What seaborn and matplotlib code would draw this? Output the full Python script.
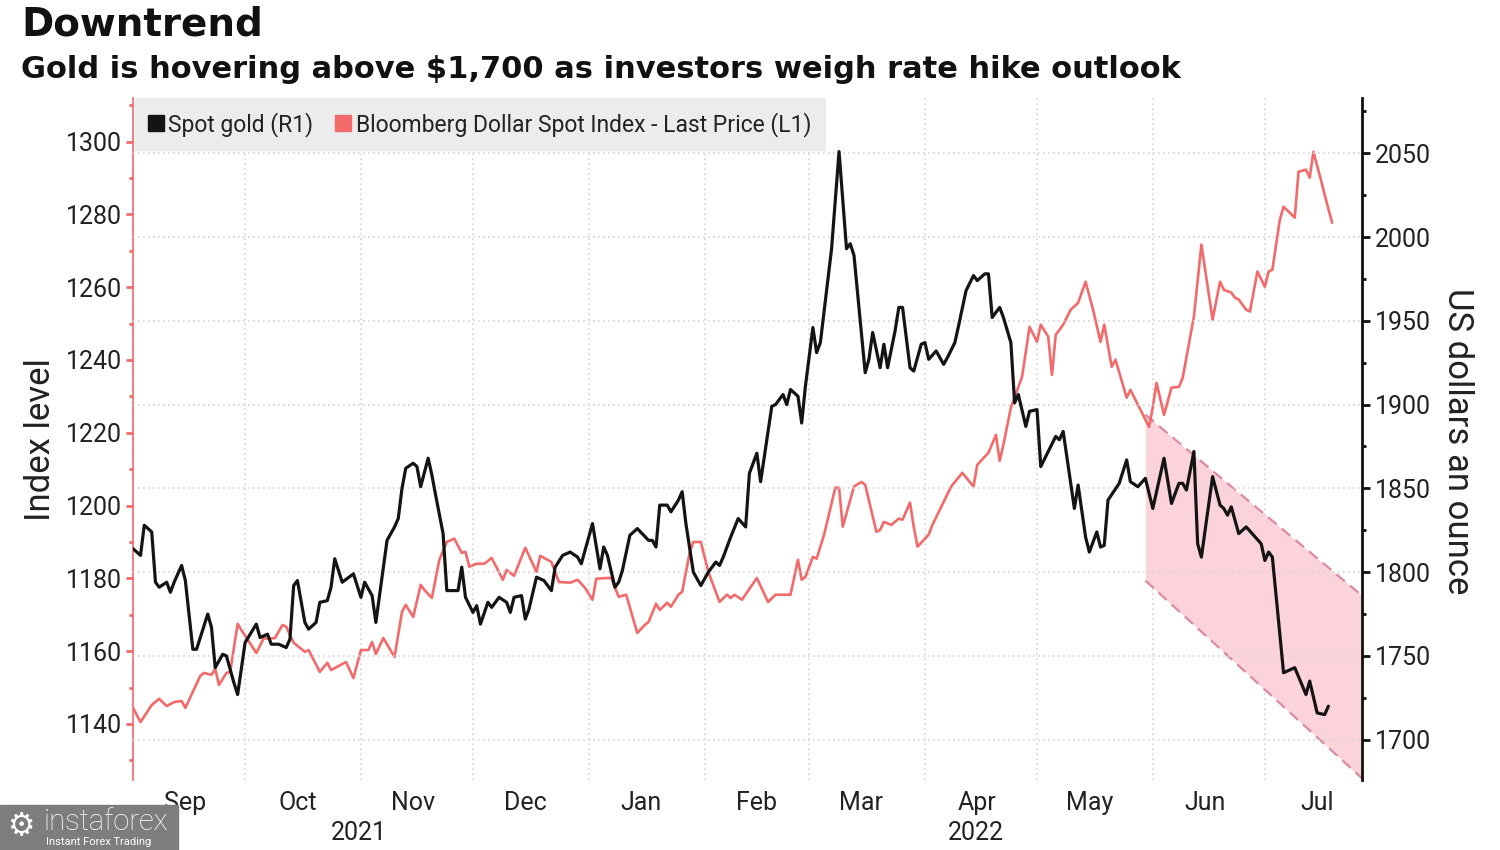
import pandas as pd
import seaborn as sns
import matplotlib.pyplot as plt
import matplotlib.transforms as mtransforms
from matplotlib.lines import Line2D
from matplotlib.patches import Rectangle
from matplotlib.ticker import MultipleLocator

# spot gold, US$ an ounce (right axis)
gold_dates = [
    '2021-09-01', '2021-09-03', '2021-09-04', '2021-09-06', '2021-09-07', '2021-09-08', '2021-09-10',
    '2021-09-11', '2021-09-12', '2021-09-14', '2021-09-15', '2021-09-17', '2021-09-18', '2021-09-21',
    '2021-09-22', '2021-09-23', '2021-09-25', '2021-09-26', '2021-09-28', '2021-09-29', '2021-10-01',
    '2021-10-04', '2021-10-05', '2021-10-07', '2021-10-08', '2021-10-10', '2021-10-12', '2021-10-13',
    '2021-10-14', '2021-10-15', '2021-10-17', '2021-10-18', '2021-10-20', '2021-10-21', '2021-10-23',
    '2021-10-24', '2021-10-25', '2021-10-27', '2021-10-30', '2021-11-01', '2021-11-02', '2021-11-04',
    '2021-11-05', '2021-11-08', '2021-11-10', '2021-11-11', '2021-11-12', '2021-11-13', '2021-11-15',
    '2021-11-16', '2021-11-17', '2021-11-19', '2021-11-20', '2021-11-21', '2021-11-23', '2021-11-24',
    '2021-11-27', '2021-11-28', '2021-11-29', '2021-12-01', '2021-12-02', '2021-12-03', '2021-12-05',
    '2021-12-06', '2021-12-08', '2021-12-10', '2021-12-11', '2021-12-12', '2021-12-14', '2021-12-15',
    '2021-12-16', '2021-12-18', '2021-12-20', '2021-12-22', '2021-12-23', '2021-12-25', '2021-12-27',
    '2021-12-29', '2021-12-30', '2021-12-31', '2022-01-02', '2022-01-04', '2022-01-05', '2022-01-06',
    '2022-01-08', '2022-01-09', '2022-01-10', '2022-01-12', '2022-01-14', '2022-01-17', '2022-01-18',
    '2022-01-19', '2022-01-20', '2022-01-22', '2022-01-23', '2022-01-25', '2022-01-26', '2022-01-27',
    '2022-01-29', '2022-01-31', '2022-02-02', '2022-02-04', '2022-02-05', '2022-02-06', '2022-02-08',
    '2022-02-10', '2022-02-12', '2022-02-13', '2022-02-15', '2022-02-16', '2022-02-17', '2022-02-19',
    '2022-02-20', '2022-02-22', '2022-02-23', '2022-02-24', '2022-02-26', '2022-02-27', '2022-02-28',
    '2022-03-02', '2022-03-03', '2022-03-04', '2022-03-07', '2022-03-09', '2022-03-11', '2022-03-12',
    '2022-03-13', '2022-03-16', '2022-03-17', '2022-03-18', '2022-03-20', '2022-03-21', '2022-03-22',
    '2022-03-24', '2022-03-25', '2022-03-26', '2022-03-28', '2022-03-29', '2022-03-31', '2022-04-01',
    '2022-04-02', '2022-04-04', '2022-04-06', '2022-04-07', '2022-04-09', '2022-04-10', '2022-04-12',
    '2022-04-14', '2022-04-15', '2022-04-17', '2022-04-18', '2022-04-19', '2022-04-21', '2022-04-22',
    '2022-04-24', '2022-04-25', '2022-04-26', '2022-04-28', '2022-04-29', '2022-05-01', '2022-05-02',
    '2022-05-06', '2022-05-07', '2022-05-08', '2022-05-11', '2022-05-12', '2022-05-14', '2022-05-15',
    '2022-05-17', '2022-05-18', '2022-05-19', '2022-05-20', '2022-05-23', '2022-05-25', '2022-05-26',
    '2022-05-28', '2022-05-30', '2022-06-01', '2022-06-04', '2022-06-06', '2022-06-08', '2022-06-09',
    '2022-06-10', '2022-06-12', '2022-06-13', '2022-06-14', '2022-06-17', '2022-06-19', '2022-06-20',
    '2022-06-21', '2022-06-22', '2022-06-24', '2022-06-26', '2022-06-28', '2022-06-30', '2022-07-01',
    '2022-07-02', '2022-07-03', '2022-07-06', '2022-07-09', '2022-07-12', '2022-07-13', '2022-07-15',
    '2022-07-17', '2022-07-18',
]
gold_usd = [
    1814, 1810, 1828, 1824, 1794, 1791, 1794, 1788, 1794, 1804, 1795, 1754, 1754, 1775,
    1767, 1743, 1751, 1750, 1734, 1727, 1758, 1769, 1761, 1763, 1757, 1757, 1755, 1760,
    1792, 1795, 1770, 1766, 1770, 1782, 1783, 1791, 1808, 1794, 1799, 1785, 1794, 1786,
    1770, 1819, 1827, 1832, 1850, 1862, 1865, 1863, 1851, 1868, 1858, 1846, 1823, 1789,
    1789, 1803, 1785, 1776, 1780, 1769, 1782, 1779, 1785, 1782, 1776, 1785, 1786, 1772,
    1778, 1797, 1795, 1789, 1803, 1810, 1812, 1809, 1805, 1813, 1829, 1802, 1815, 1810,
    1791, 1794, 1801, 1822, 1826, 1819, 1819, 1815, 1840, 1840, 1836, 1843, 1848, 1829,
    1800, 1792, 1800, 1806, 1804, 1809, 1821, 1832, 1827, 1859, 1871, 1854, 1869, 1899,
    1900, 1906, 1900, 1909, 1905, 1889, 1911, 1946, 1931, 1937, 1993, 2051, 1993, 1996,
    1989, 1919, 1927, 1943, 1922, 1936, 1922, 1944, 1958, 1958, 1922, 1920, 1936, 1937,
    1927, 1932, 1924, 1928, 1937, 1947, 1968, 1977, 1974, 1978, 1978, 1952, 1958, 1952,
    1937, 1901, 1906, 1887, 1896, 1897, 1863, 1881, 1879, 1884, 1838, 1852, 1821, 1812,
    1824, 1815, 1816, 1843, 1853, 1867, 1854, 1851, 1856, 1838, 1868, 1841, 1853, 1853,
    1849, 1872, 1817, 1809, 1857, 1840, 1838, 1834, 1839, 1823, 1827, 1822, 1817, 1807,
    1812, 1809, 1740, 1743, 1727, 1735, 1716, 1715, 1720,
]

# Bloomberg Dollar Spot Index, last price (left axis)
dxy_dates = [
    '2021-09-01', '2021-09-03', '2021-09-06', '2021-09-08', '2021-09-10', '2021-09-12', '2021-09-14',
    '2021-09-15', '2021-09-17', '2021-09-19', '2021-09-20', '2021-09-22', '2021-09-23', '2021-09-24',
    '2021-09-26', '2021-09-27', '2021-09-29', '2021-09-30', '2021-10-04', '2021-10-06', '2021-10-07',
    '2021-10-09', '2021-10-11', '2021-10-12', '2021-10-14', '2021-10-17', '2021-10-18', '2021-10-21',
    '2021-10-23', '2021-10-24', '2021-10-28', '2021-10-30', '2021-11-01', '2021-11-03', '2021-11-04',
    '2021-11-05', '2021-11-07', '2021-11-10', '2021-11-12', '2021-11-13', '2021-11-15', '2021-11-17',
    '2021-11-18', '2021-11-20', '2021-11-22', '2021-11-24', '2021-11-26', '2021-11-28', '2021-11-29',
    '2021-11-30', '2021-12-02', '2021-12-04', '2021-12-06', '2021-12-09', '2021-12-10', '2021-12-12',
    '2021-12-15', '2021-12-18', '2021-12-19', '2021-12-22', '2021-12-24', '2021-12-27', '2021-12-29',
    '2021-12-31', '2022-01-02', '2022-01-03', '2022-01-06', '2022-01-07', '2022-01-09', '2022-01-11',
    '2022-01-14', '2022-01-16', '2022-01-17', '2022-01-19', '2022-01-20', '2022-01-22', '2022-01-23',
    '2022-01-25', '2022-01-26', '2022-01-28', '2022-01-29', '2022-01-31', '2022-02-02', '2022-02-05',
    '2022-02-07', '2022-02-08', '2022-02-09', '2022-02-11', '2022-02-15', '2022-02-18', '2022-02-20',
    '2022-02-24', '2022-02-26', '2022-02-27', '2022-02-28', '2022-03-02', '2022-03-03', '2022-03-05',
    '2022-03-08', '2022-03-09', '2022-03-10', '2022-03-13', '2022-03-15', '2022-03-16', '2022-03-19',
    '2022-03-20', '2022-03-21', '2022-03-23', '2022-03-25', '2022-03-26', '2022-03-28', '2022-03-29',
    '2022-03-30', '2022-04-02', '2022-04-03', '2022-04-06', '2022-04-08', '2022-04-11', '2022-04-14',
    '2022-04-15', '2022-04-18', '2022-04-20', '2022-04-21', '2022-04-22', '2022-04-24', '2022-04-27',
    '2022-04-29', '2022-05-01', '2022-05-02', '2022-05-04', '2022-05-05', '2022-05-06', '2022-05-08',
    '2022-05-10', '2022-05-12', '2022-05-14', '2022-05-16', '2022-05-18', '2022-05-19', '2022-05-21',
    '2022-05-22', '2022-05-25', '2022-05-26', '2022-05-31', '2022-06-01', '2022-06-02', '2022-06-04',
    '2022-06-06', '2022-06-08', '2022-06-09', '2022-06-12', '2022-06-14', '2022-06-17', '2022-06-19',
    '2022-06-20', '2022-06-22', '2022-06-23', '2022-06-24', '2022-06-26', '2022-06-27', '2022-06-29',
    '2022-07-01', '2022-07-02', '2022-07-03', '2022-07-05', '2022-07-06', '2022-07-09', '2022-07-10',
    '2022-07-12', '2022-07-13', '2022-07-14', '2022-07-16', '2022-07-17', '2022-07-19',
]
dxy_index = [
    1144.4, 1140.5, 1145.2, 1146.9, 1144.9, 1146.0, 1146.3, 1144.4, 1148.8, 1153.2, 1154.0, 1153.5,
    1155.1, 1150.7, 1154.0, 1154.3, 1167.5, 1165.8, 1159.5, 1163.6, 1163.4, 1163.6, 1167.2, 1166.7,
    1162.3, 1159.8, 1160.3, 1154.3, 1156.8, 1154.8, 1157.0, 1152.6, 1160.3, 1160.3, 1162.5, 1159.2,
    1163.6, 1158.4, 1170.8, 1172.7, 1169.4, 1178.2, 1176.8, 1174.6, 1185.1, 1190.0, 1190.9, 1187.0,
    1187.3, 1183.2, 1184.0, 1184.0, 1185.6, 1179.6, 1182.3, 1180.7, 1188.4, 1181.8, 1186.2, 1184.5,
    1179.0, 1178.8, 1179.6, 1177.4, 1174.1, 1179.9, 1180.1, 1180.1, 1174.9, 1175.5, 1165.0, 1167.2,
    1168.0, 1173.0, 1171.3, 1173.3, 1172.2, 1175.5, 1176.3, 1187.0, 1190.0, 1190.0, 1181.8, 1173.5,
    1175.5, 1174.6, 1175.5, 1174.1, 1180.1, 1173.5, 1175.5, 1175.5, 1185.1, 1179.6, 1180.4, 1185.9,
    1185.4, 1192.0, 1204.9, 1204.9, 1194.2, 1205.2, 1206.5, 1205.7, 1192.8, 1193.3, 1195.5, 1194.7,
    1196.4, 1196.1, 1200.8, 1194.2, 1188.7, 1192.0, 1194.7, 1201.0, 1205.2, 1209.0, 1205.2, 1211.2,
    1214.5, 1219.4, 1212.3, 1216.7, 1226.9, 1235.4, 1249.1, 1245.0, 1249.7, 1246.4, 1235.9, 1246.9,
    1249.7, 1253.8, 1255.7, 1261.5, 1253.8, 1245.0, 1249.7, 1238.1, 1240.1, 1229.6, 1231.8, 1221.6,
    1227.1, 1233.7, 1224.9, 1232.4, 1232.6, 1235.1, 1251.9, 1271.7, 1251.1, 1261.5, 1259.3, 1258.5,
    1257.1, 1256.6, 1253.8, 1253.3, 1264.3, 1260.1, 1264.3, 1264.8, 1278.5, 1282.1, 1279.1, 1291.7,
    1292.3, 1290.1, 1297.2, 1289.5, 1285.4, 1277.7,
]

# downtrend channel drawn on the gold scale
channel_dates = ['2022-05-30', '2022-07-27']
channel_upper = [1894, 1786]
channel_lower = [1795, 1677]

month_labels = ['Sep', 'Oct', 'Nov', 'Dec', 'Jan', 'Feb', 'Mar', 'Apr', 'May', 'Jun', 'Jul']
year_labels = ['2021', '2022']
series_labels = ['Spot gold (R1)', 'Bloomberg Dollar Spot Index - Last Price (L1)']

GOLD_C = '#141414'
DXY_C = '#f26a6a'
GRID_C = '#d6d6d6'

gold = pd.DataFrame({'date': pd.to_datetime(gold_dates), 'price': gold_usd})
dxy = pd.DataFrame({'date': pd.to_datetime(dxy_dates), 'level': dxy_index})
x_start, x_end = pd.Timestamp('2021-09-01'), pd.Timestamp('2022-07-27')

sns.set_theme(style='white')
plt.rcParams['font.family'] = ['Roboto', 'DejaVu Sans']
plt.rcParams['text.color'] = '#222222'

fig = plt.figure(figsize=(15, 8.5), dpi=100)
ax = fig.add_axes([0.0887, 0.0824, 0.8193, 0.8024])
ax2 = ax.twinx()

ax.set_xlim(x_start, x_end)
ax.set_ylim(1124.6, 1312)
ax2.set_ylim(1676, 2083)

# shaded channel lives on the left axes (under the red line) but uses the gold scale
ch_x = pd.to_datetime(channel_dates)
ax.fill_between(ch_x, channel_lower, channel_upper, color='#fcd3db', lw=0, zorder=1,
                transform=ax2.transData)
for edge in (channel_upper, channel_lower):
    ax.plot(ch_x, edge, color='#dc8aa2', lw=1.6, ls=(0, (5, 3)), zorder=1.5,
            transform=ax2.transData)

sns.lineplot(data=dxy, x='date', y='level', ax=ax, color=DXY_C, linewidth=1.9, zorder=3)
sns.lineplot(data=gold, x='date', y='price', ax=ax2, color=GOLD_C, linewidth=2.3, zorder=3)
ax.set_ylim(1124.6, 1312)
ax2.set_ylim(1676, 2083)
ax.set_xlim(x_start, x_end)

# month grid at month starts, labels mid-month
month_starts = pd.date_range('2021-09-01', '2022-07-01', freq='MS')
ax.set_xticks(month_starts)
ax.set_xticklabels([''] * len(month_starts))
ax.set_xticks(month_starts + pd.Timedelta(days=14), minor=True)
ax.set_xticklabels(month_labels, minor=True)
ax.tick_params(axis='x', which='both', length=0)
ax.tick_params(axis='x', which='minor', pad=8, labelsize=18, labelcolor='#222222')
ax.xaxis.grid(True, which='major', color=GRID_C, ls=(0, (1, 2)), lw=1.2)
ax.set_xlabel('')

year_spans = [(x_start, pd.Timestamp('2021-12-31')), (pd.Timestamp('2022-01-01'), x_end)]
xt = mtransforms.blended_transform_factory(ax.transData, ax.transAxes)
for lab, (a, b) in zip(year_labels, year_spans):
    ax.text(a + (b - a) / 2, -0.078, lab, transform=xt, ha='center', va='center', fontsize=18)

# left axis (index level)
ax.set_yticks(range(1140, 1301, 20))
ax.yaxis.set_minor_locator(MultipleLocator(10))
ax.tick_params(axis='y', which='both', direction='out', color=DXY_C, width=2, left=True,
               labelsize=18, labelcolor='#222222', pad=3)
ax.tick_params(axis='y', which='major', length=5)
ax.tick_params(axis='y', which='minor', length=3)
ax.set_ylabel('')
ax.yaxis.grid(False)

# right axis (gold)
ax2.set_yticks(range(1700, 2051, 50))
ax2.yaxis.set_minor_locator(MultipleLocator(25))
ax2.tick_params(axis='y', which='both', direction='out', color='#111111', width=2, right=True,
                labelsize=18, labelcolor='#222222', pad=3)
ax2.tick_params(axis='y', which='major', length=6)
ax2.tick_params(axis='y', which='minor', length=3)
ax2.set_ylabel('')
ax2.yaxis.grid(True, color=GRID_C, ls=(0, (1, 2)), lw=1.2)
ax2.xaxis.grid(False)

for s in ('top', 'bottom', 'right'):
    ax.spines[s].set_visible(False)
for s in ('top', 'bottom', 'left'):
    ax2.spines[s].set_visible(False)
ax.spines['left'].set_color(DXY_C)
ax.spines['left'].set_linewidth(1.2)
ax2.spines['right'].set_color('#111111')
ax2.spines['right'].set_linewidth(2)

handles = [Line2D([], [], marker='s', ls='none', color=GOLD_C, markersize=11),
           Line2D([], [], marker='s', ls='none', color=DXY_C, markersize=11)]
leg = ax2.legend(handles, series_labels, loc='upper left', bbox_to_anchor=(0.0015, 1.0), ncol=2,
                 frameon=True, fancybox=False, facecolor='#ececec', edgecolor='#ececec',
                 framealpha=1, fontsize=16.5, handlelength=0.6, handletextpad=0.25,
                 columnspacing=1.0, borderaxespad=0.0, borderpad=0.6)
leg.set_zorder(10)

fig.text(40 / 1500, 1 - 440 / 850, 'Index level', rotation=90, ha='center', va='center',
         fontsize=25)
fig.text(1457 / 1500, 1 - 441 / 850, 'US dollars an ounce', rotation=270, ha='center',
         va='center', fontsize=25)

fig.text(0.014, 1 - 36 / 850, 'Downtrend', fontsize=28, fontweight='bold',
         family=['DejaVu Sans'], va='baseline', color='#111111')
fig.text(0.014, 1 - 78 / 850,
         'Gold is hovering above $1,700 as investors weigh rate hike outlook',
         fontsize=22, fontweight='bold', family=['DejaVu Sans'], va='baseline', color='#111111')

# watermark box bottom-left
fig.add_artist(Rectangle((0, 0), 178 / 1500, 45 / 850, transform=fig.transFigure,
                         color='#7d7d7d', zorder=20))
fig.text(7 / 1500, 1 - 827 / 850, '\u2699', fontsize=22, color='white', va='center',
         family=['DejaVu Sans'], zorder=21)
fig.text(44 / 1500, 1 - 822 / 850, 'instaforex', fontsize=21, color='white', va='center',
         fontweight='light', zorder=21)
fig.text(46 / 1500, 1 - 842 / 850, 'Instant Forex Trading', fontsize=8, color='white',
         va='center', zorder=21)

fig.savefig('out.png', dpi=100, facecolor='white')
